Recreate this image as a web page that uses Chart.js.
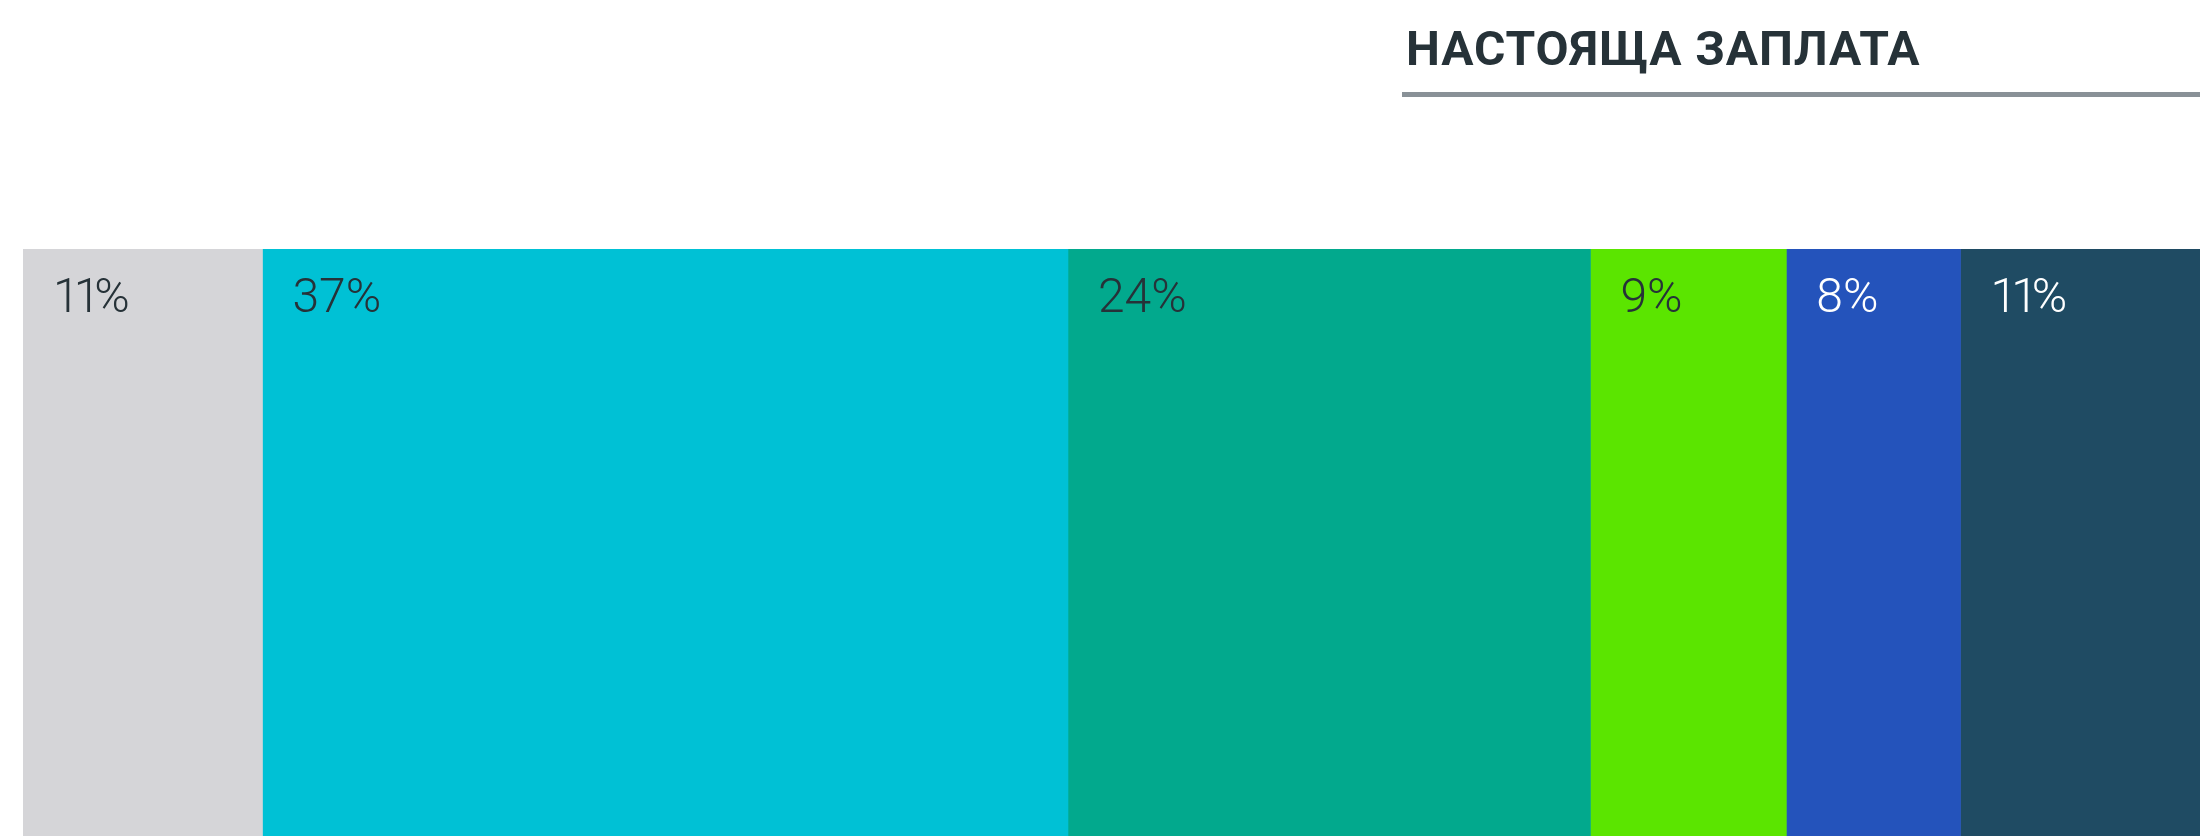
<!DOCTYPE html>
<html lang="bg">
<head>
<meta charset="utf-8">
<title>Настояща заплата</title>
<script src="https://cdn.jsdelivr.net/npm/chart.js@4/dist/chart.umd.min.js"></script>
<style>
    html, body {
        margin: 0;
        padding: 0;
        background: #ffffff;
        overflow: hidden;
    }
    #wrap {
        position: relative;
        width: 2200px;
        height: 836px;
    }
    #salaryChart {
        position: absolute;
        left: 0;
        top: 0;
    }
    .heading {
        position: absolute;
        left: 1402px;
        top: 25px;
        width: 798px;
        margin: 0;
        padding: 0 0 19px 4px;
        box-sizing: border-box;
        border-bottom: 5px solid #899197;
        font-family: Roboto, "Noto Sans", sans-serif;
        font-weight: 700;
        font-size: 48px;
        line-height: 48px;
        letter-spacing: 0.9px;
        color: #263238;
        white-space: nowrap;
    }
</style>
</head>
<body>
<div id="wrap">
    <canvas id="salaryChart" width="2200" height="836"></canvas>
    <h2 class="heading">НАСТОЯЩА ЗАПЛАТА</h2>
</div>

<script>
// Дялове на заплатите (%), един ред
const rowLabels = ["Настояща заплата"];
const bandNames = ["Група 1", "Група 2", "Група 3", "Група 4", "Група 5", "Група 6"];
const bandShares = [11, 37, 24, 9, 8, 11];
const bandColors = ["#d5d5d8", "#00c1d5", "#02a98d", "#5be500", "#2453bb", "#1f4b63"];
const labelColors = ["#263238", "#263238", "#263238", "#263238", "#ffffff", "#ffffff"];

// Пише текста знак по знак; единиците са по-тесни (пропорционални цифри)
function drawTight(ctx, text, x, y) {
    let cx = x;
    for (const ch of text) {
        ctx.fillText(ch, cx, y);
        let adv = ctx.measureText(ch).width;
        if (ch === "1") adv -= 6;
        cx += adv;
    }
}

// Процентите се пишат в горния ляв ъгъл на всеки сегмент
const shareLabels = {
    id: "shareLabels",
    afterDatasetsDraw(chart) {
        const ctx = chart.ctx;
        ctx.save();
        ctx.font = "300 48px Roboto, 'Noto Sans', sans-serif";
        ctx.textAlign = "left";
        ctx.textBaseline = "alphabetic";
        chart.data.datasets.forEach((ds, i) => {
            const meta = chart.getDatasetMeta(i);
            meta.data.forEach((bar, j) => {
                const left = Math.min(bar.x, bar.base);
                const top = bar.y - bar.height / 2;
                ctx.fillStyle = labelColors[i];
                drawTight(ctx, ds.data[j] + "%", left + 30, top + 63);
            });
        });
        ctx.restore();
    }
};

document.addEventListener("DOMContentLoaded", () => {
    const ctx = document.getElementById("salaryChart");

    new Chart(ctx, {
        type: "bar",
        data: {
            labels: rowLabels,
            datasets: bandShares.map((v, i) => ({
                label: bandNames[i],
                data: [v],
                backgroundColor: bandColors[i],
                borderWidth: 0,
                barPercentage: 1,
                categoryPercentage: 1
            }))
        },
        options: {
            indexAxis: "y",
            responsive: false,
            animation: false,
            layout: { padding: { top: 249, left: 23, right: 0, bottom: 0 } },
            scales: {
                x: { stacked: true, display: false, min: 0, max: 100 },
                y: { stacked: true, display: false }
            },
            plugins: {
                legend: { display: false },
                title: { display: false },
                tooltip: { enabled: false }
            }
        },
        plugins: [shareLabels]
    });
});
</script>
</body>
</html>
